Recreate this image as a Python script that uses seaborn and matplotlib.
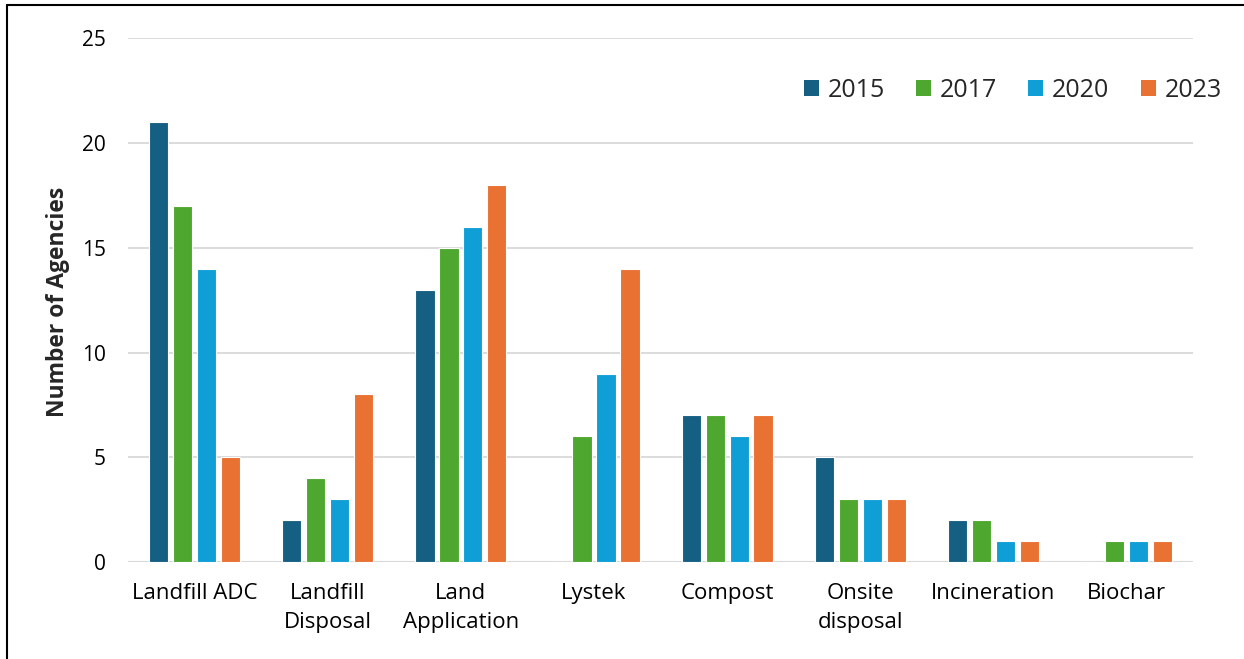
import matplotlib
matplotlib.use("Agg")
import matplotlib.pyplot as plt
from matplotlib.lines import Line2D
from matplotlib.patches import Patch
import seaborn as sns
import pandas as pd

categories = ["Landfill ADC", "Landfill\nDisposal", "Land\nApplication", "Lystek",
              "Compost", "Onsite\ndisposal", "Incineration", "Biochar"]
years = ["2015", "2017", "2020", "2023"]
v2015 = [21, 2, 13, 0, 7, 5, 2, 0]
v2017 = [17, 4, 15, 6, 7, 3, 2, 1]
v2020 = [14, 3, 16, 9, 6, 3, 1, 1]
v2023 = [5, 8, 18, 14, 7, 3, 1, 1]
colors = ["#156082", "#4EA72E", "#0F9ED5", "#E97132"]

rows = []
for year, vals in zip(years, [v2015, v2017, v2020, v2023]):
    for cat, v in zip(categories, vals):
        rows.append({"Method": cat, "Year": year, "Agencies": v})
df = pd.DataFrame(rows)

sns.set_theme(style="white")
plt.rcParams["font.family"] = ["Open Sans", "DejaVu Sans"]

fig = plt.figure(figsize=(12.44, 6.59), dpi=100)
ax = fig.add_axes([0.103, 0.147, 0.856, 0.795])

sns.barplot(data=df, x="Method", y="Agencies", hue="Year", palette=colors,
            order=categories, hue_order=years, width=0.72, gap=0.2,
            saturation=1, edgecolor="white", linewidth=0.8, ax=ax, legend=False)

ax.set_ylim(0, 25)
ax.set_xlim(-0.5, 7.5)
ax.set_yticks([0, 5, 10, 15, 20, 25])
ax.yaxis.grid(True, color="#D9D9D9", linewidth=1.3)
ax.set_axisbelow(True)
for s in ["top", "right", "left", "bottom"]:
    ax.spines[s].set_visible(False)
ax.tick_params(axis="both", length=0, colors="#000000")
ax.tick_params(axis="y", pad=16, labelsize=15)
ax.tick_params(axis="x", pad=15, labelsize=16)
for lbl in ax.get_xticklabels():
    lbl.set_linespacing(1.5)
ax.set_xlabel("")
ax.set_ylabel("")
fig.text(0.0465, 0.542, "Number of Agencies", rotation=90, ha="center", va="center",
         fontsize=16.5, fontweight="bold")
ax.axhline(0, color="#D9D9D9", linewidth=1.5, zorder=0.5)

handles = [Patch(facecolor=c, edgecolor="none") for c in colors]
ax.legend(handles, years, loc="upper right", bbox_to_anchor=(1.048, 0.967), ncol=4,
          frameon=False, fontsize=18, handlelength=0.6, handleheight=0.6,
          handletextpad=0.35, columnspacing=1.25)

# Frame edges along the left and top of the figure
fig.add_artist(Line2D([0.0058, 0.0058], [0, 0.993], transform=fig.transFigure,
                      color="black", linewidth=1.5))
fig.add_artist(Line2D([0.0058, 1.0], [0.993, 0.993], transform=fig.transFigure,
                      color="black", linewidth=1.5))

fig.savefig("out.png", dpi=100, facecolor="white")
